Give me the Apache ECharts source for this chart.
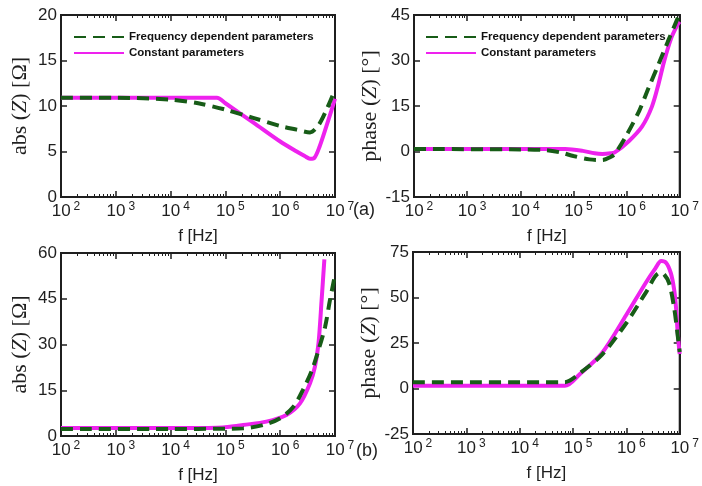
<!DOCTYPE html>
<html>
<head>
<meta charset="utf-8">
<script src="https://cdn.jsdelivr.net/npm/echarts@6/dist/echarts.min.js"></script>
<style>
  html, body { margin: 0; padding: 0; background: #fff; }
  #chart { width: 702px; height: 486px; }
</style>
</head>
<body>
<div id="chart"></div>
<script>
// values (frequency in Hz, y in ohm / degree)
// (a) abs(Z)
var fAbsA_fd = [1e2, 1e3, 1e4, 3.2e4, 1e5, 3.2e5, 1e6, 2e6, 3.5e6, 5e6, 7e6, 1e7];
var absA_fd  = [10.9, 10.9, 10.7, 10.3, 9.6, 8.7, 7.8, 7.4, 7.1, 7.9, 9.6, 11.8];
var fAbsA_cp = [1e2, 1e4, 7e4, 1e5, 3.2e5, 1e6, 2e6, 2.8e6, 3.5e6, 4.2e6, 5.2e6, 6.9e6, 8.5e6, 1e7];
var absA_cp  = [10.9, 10.9, 10.9, 10.3, 8.2, 6.1, 5.0, 4.5, 4.2, 4.3, 5.5, 7.7, 9.4, 10.8];
// (a) phase(Z)
var fPhA_fd = [1e2, 1e4, 3.2e4, 6e4, 1e5, 2e5, 3.5e5, 5e5, 6e5, 9.5e5, 1.74e6, 2.6e6, 4e6, 6e6, 9.1e6, 1e7];
var phA_fd  = [0.8, 0.7, 0.4, -0.4, -1.5, -2.6, -2.8, -1.8, -0.8, 4.7, 13.5, 21, 28.8, 36.3, 43.8, 45.5];
var fPhA_cp = [1e2, 1e4, 7e4, 1.5e5, 2.5e5, 3.5e5, 5e5, 6e5, 1.1e6, 1.95e6, 3e6, 4e6, 5.1e6, 6.9e6, 9.1e6, 1e7];
var phA_cp  = [0.8, 0.8, 0.8, 0.2, -0.6, -0.8, -0.6, -0.3, 3.4, 8.2, 14.8, 22.3, 29.8, 37.3, 41.8, 42.8];
// (b) abs(Z)
var fAbsB_fd = [1e2, 1e4, 1e5, 2.1e5, 4.9e5, 1e6, 1.74e6, 2.6e6, 3.8e6, 5e6, 6.6e6, 8.1e6, 1e7];
var absB_fd  = [2.3, 2.3, 2.4, 2.5, 3.6, 5.8, 9.6, 15.1, 21.6, 28.2, 35.8, 44.6, 52.8];
var fAbsB_cp = [1e2, 1e4, 7e4, 1.2e5, 2.1e5, 5.6e5, 1.3e6, 2.3e6, 3.5e6, 4.3e6, 5e6, 5.7e6, 6.4e6];
var absB_cp  = [2.6, 2.6, 2.7, 3.0, 3.6, 4.7, 6.9, 10.7, 17.3, 22.7, 30.4, 44.6, 57.9];
// (b) phase(Z)
var fPhB_fd = [1e2, 7e4, 1.35e5, 3.5e5, 1e6, 2.3e6, 4.2e6, 5e6, 6.3e6, 7.8e6, 9.1e6, 1e7];
var phB_fd  = [3.5, 3.5, 8.5, 18.6, 36, 52.5, 63.5, 63, 58, 45, 30, 20];
var fPhB_cp = [1e2, 7e4, 1.35e5, 3.5e5, 1e6, 2.3e6, 3.5e6, 4.5e6, 5.6e6, 6.8e6, 7.8e6, 8.5e6, 9.1e6, 9.6e6, 1e7];
var phB_cp  = [1.5, 1.5, 8, 19.5, 40.5, 58, 66, 70, 69, 63.5, 55, 45, 32, 24, 19];

var seriesNames = ['Frequency dependent parameters', 'Constant parameters'];

var FONT = '"Liberation Sans", Arial, sans-serif';
var SERIF = '"Liberation Serif", "Times New Roman", serif';
var INK = '#1f1f1f';
var GREEN = '#175c17', MAGENTA = '#ee22ee';

// minor log ticks 2..9 x 10^k
var minorVals = [];
for (var k = 2; k < 7; k++) for (var m = 2; m < 10; m++) minorVals.push(m * Math.pow(10, k));

function pts(f, v) { return f.map(function (x, i) { return [x, v[i]]; }); }

var panels = [
  { grid: { left: 61, top: 15, width: 274, height: 182 }, min: 0, max: 20, step: 5,
    title: 'abs', unit: 'Ω', gap: 30, fd: pts(fAbsA_fd, absA_fd), cp: pts(fAbsA_cp, absA_cp) },
  { grid: { left: 414, top: 15, width: 275, height: 182 }, min: -15, max: 45, step: 15,
    title: 'phase', unit: '°', gap: 24, fd: pts(fPhA_fd, phA_fd), cp: pts(fPhA_cp, phA_cp) },
  { grid: { left: 61, top: 253, width: 274, height: 183 }, min: 0, max: 60, step: 15,
    title: 'abs', unit: 'Ω', gap: 30, fd: pts(fAbsB_fd, absB_fd), cp: pts(fAbsB_cp, absB_cp) },
  { grid: { left: 413, top: 252, width: 273, height: 182 }, min: -25, max: 75, step: 25,
    title: 'phase', unit: '°', gap: 24, fd: pts(fPhB_fd, phB_fd), cp: pts(fPhB_cp, phB_cp) }
];

var grids = [], xAxes = [], yAxes = [], series = [];

function tick(len, w, extra) {
  return Object.assign({ show: true, inside: true, length: len, lineStyle: { color: INK, width: w } }, extra || {});
}
function edgeLine() { return { show: true, onZero: false, lineStyle: { color: INK, width: 2 } }; }
function noLine() { return { show: false, onZero: false }; }
var noSplit = { show: false };

panels.forEach(function (p, i) {
  grids.push(Object.assign({ show: true, borderColor: INK, borderWidth: 2 }, p.grid));

  var mainIdx = xAxes.length;
  ['bottom', 'top'].forEach(function (pos) {
    // decade ticks (bottom one carries the labels and the name)
    var major = {
      type: 'log', gridIndex: i, min: 100, max: 1e7, position: pos,
      axisLine: edgeLine(), axisTick: tick(6, 1.5), splitLine: noSplit,
      axisLabel: { show: false }
    };
    if (pos === 'bottom') {
      major.axisLabel = {
        show: true, margin: 4, showMinLabel: true, showMaxLabel: true,
        formatter: function (v) { return '{b|10}{s|' + Math.round(Math.log10(v)) + '}'; },
        rich: {
          b: { fontSize: 17, fontFamily: FONT, color: INK, lineHeight: 20, padding: [0, 0, 0, 10] },
          s: { fontSize: 12, fontFamily: FONT, color: INK, lineHeight: 12, verticalAlign: 'top', padding: [0, 0, 0, 3] }
        }
      };
      major.name = 'f [Hz]';
      major.nameLocation = 'middle';
      major.nameGap = 31;
      major.nameTextStyle = { fontFamily: FONT, fontSize: 17, color: INK };
    }
    xAxes.push(major);
    // minor ticks 2..9 in every decade
    xAxes.push({
      type: 'log', gridIndex: i, min: 100, max: 1e7, position: pos,
      axisLine: noLine(), axisLabel: { show: false }, splitLine: noSplit,
      axisTick: tick(3, 1, { customValues: minorVals })
    });
  });

  var yIdx = yAxes.length;
  yAxes.push({
    type: 'value', gridIndex: i, position: 'left', min: p.min, max: p.max, interval: p.step,
    axisLine: edgeLine(), splitLine: noSplit,
    axisTick: tick(6, 1.5),
    axisLabel: { margin: 4, fontSize: 17, fontFamily: FONT, color: INK, showMinLabel: true, showMaxLabel: true },
    name: '{t|' + p.title + ' (}{i|Z}{t|) [' + p.unit + ']}',
    nameLocation: 'middle', nameGap: p.gap,
    nameTextStyle: {
      rich: {
        t: { fontFamily: SERIF, fontSize: 22, color: INK },
        i: { fontFamily: SERIF, fontSize: 22, color: INK, fontStyle: 'italic' }
      }
    }
  });
  yAxes.push({
    type: 'value', gridIndex: i, position: 'right', min: p.min, max: p.max, interval: p.step,
    axisLine: edgeLine(), splitLine: noSplit, axisLabel: { show: false },
    axisTick: tick(6, 1.5)
  });

  series.push({
    name: seriesNames[1], type: 'line', xAxisIndex: mainIdx, yAxisIndex: yIdx,
    data: p.cp, symbol: 'none', smooth: 0.3,
    lineStyle: { color: MAGENTA, width: 4 }, itemStyle: { color: MAGENTA }
  });
  series.push({
    name: seriesNames[0], type: 'line', xAxisIndex: mainIdx, yAxisIndex: yIdx,
    data: p.fd, symbol: 'none', smooth: 0.3,
    lineStyle: { color: GREEN, width: 4, type: [12, 7] }, itemStyle: { color: GREEN }
  });
});

function legendAt(left) {
  return {
    left: left, top: 26, orient: 'vertical', data: seriesNames,
    itemWidth: 50, itemHeight: 12, itemGap: 4, selectedMode: false,
    itemStyle: { opacity: 0 },
    textStyle: { fontFamily: FONT, fontWeight: 'bold', fontSize: 11.5, color: '#111' }
  };
}

var chart = echarts.init(document.getElementById('chart'));
chart.setOption({
  animation: false,
  title: [
    { text: '(a)', left: 353, top: 201, padding: 0, textStyle: { fontFamily: FONT, fontSize: 18, fontWeight: 'normal', color: INK } },
    { text: '(b)', left: 356, top: 442, padding: 0, textStyle: { fontFamily: FONT, fontSize: 18, fontWeight: 'normal', color: INK } }
  ],
  legend: [legendAt(68), legendAt(420)],
  grid: grids,
  xAxis: xAxes,
  yAxis: yAxes,
  series: series
});
</script>
</body>
</html>
